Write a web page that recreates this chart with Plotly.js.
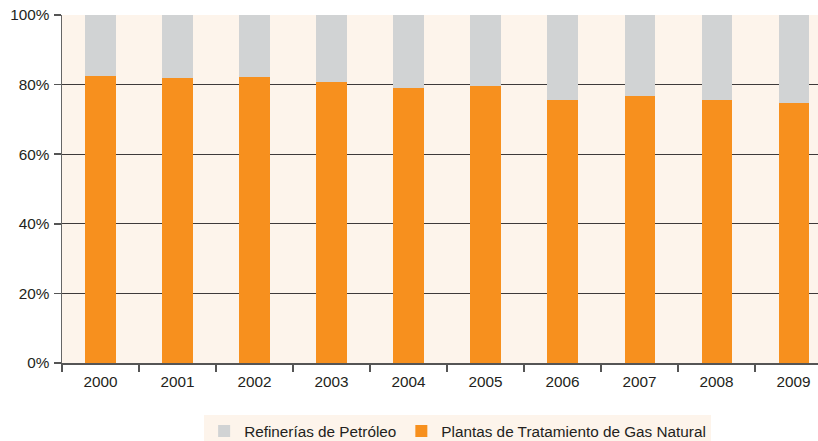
<!DOCTYPE html>
<html>
<head>
<meta charset="utf-8">
<script src="https://cdn.plot.ly/plotly-3.0.1.min.js"></script>
<style>html,body{margin:0;padding:0;background:#fff;}#chart{width:818px;height:441px;}</style>
</head>
<body>
<div id="chart"></div>
<script>
const years = ["2000","2001","2002","2003","2004","2005","2006","2007","2008","2009"];
const plantasGas = [82.6, 81.8, 82.2, 80.7, 79.1, 79.5, 75.6, 76.7, 75.6, 74.7];
const refinerias = plantasGas.map(v => +(100 - v).toFixed(1));
const seriesNames = ["Plantas de Tratamiento de Gas Natural", "Refinerías de Petróleo"];
const yTicks = [0, 20, 40, 60, 80, 100];
const yTickLabels = ["0%", "20%", "40%", "60%", "80%", "100%"];

const font = {family: "Liberation Sans, Arial, sans-serif", size: 15.3, color: "#231f20"};

const traces = [
  {type: "bar", name: seriesNames[0], x: years, y: plantasGas, width: 0.39,
   marker: {color: "#f7901e", line: {width: 0}}},
  {type: "bar", name: seriesNames[1], x: years, y: refinerias, width: 0.39,
   marker: {color: "#d1d3d4", line: {width: 0}}}
];

const layout = {
  width: 818, height: 441,
  margin: {l: 62, r: 0, t: 15, b: 78, autoexpand: false},
  barmode: "stack",
  paper_bgcolor: "#ffffff",
  plot_bgcolor: "#fdf4eb",
  font: font,
  showlegend: true,
  legend: {
    orientation: "h", traceorder: "reversed",
    x: 0.188, xanchor: "left", y: -0.148, yanchor: "top",
    bgcolor: "#fdf4eb", font: font, tracegroupgap: 0, itemwidth: 30
  },
  xaxis: {
    type: "category", range: [-0.5, 9.318],
    showline: true, linecolor: "#555", linewidth: 1.5,
    ticks: "outside", tickson: "boundaries", ticklen: 7, tickcolor: "#555", tickwidth: 1.5,
    ticklabelstandoff: 4,
    showgrid: false, tickfont: font, fixedrange: true
  },
  yaxis: {
    range: [0, 100], tickvals: yTicks, ticktext: yTickLabels,
    showline: true, linecolor: "#666", linewidth: 1.5,
    ticks: "outside", ticklen: 7, tickcolor: "#555", tickwidth: 1.5,
    ticklabelstandoff: 1,
    showgrid: true, gridcolor: "#3e3a3a", gridwidth: 1.2,
    zeroline: false, tickfont: font, fixedrange: true
  }
};

Plotly.newPlot("chart", traces, layout, {displayModeBar: false, staticPlot: true});
</script>
</body>
</html>
